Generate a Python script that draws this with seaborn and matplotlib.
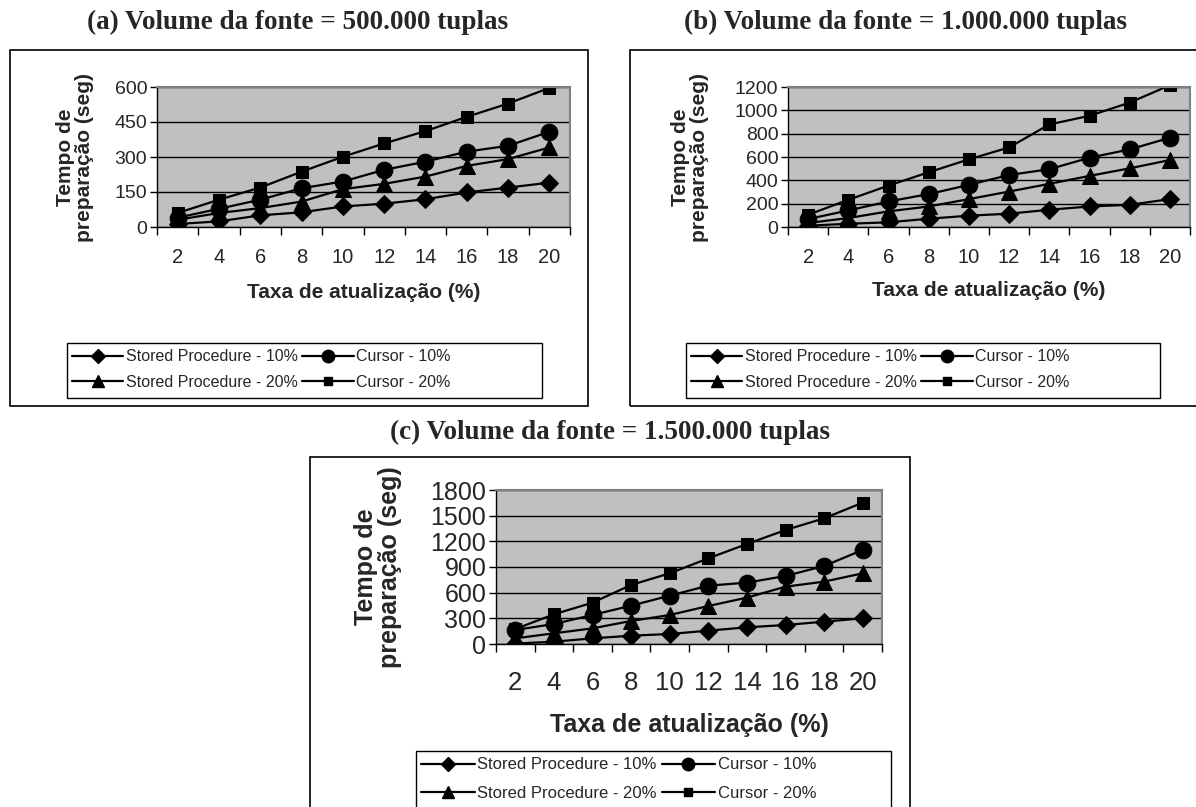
import matplotlib
matplotlib.use('Agg')
import matplotlib.pyplot as plt
import seaborn as sns
import pandas as pd
from matplotlib.lines import Line2D
from matplotlib.patches import Rectangle

# Data (seconds)
taxa = [2, 4, 6, 8, 10, 12, 14, 16, 18, 20]
series_names = ['Stored Procedure - 10%', 'Cursor - 10%',
                'Stored Procedure - 20%', 'Cursor - 20%']

a_sp10 = [13, 24, 50, 63, 88, 100, 119, 148, 169, 190]
a_c10 = [40, 78, 117, 166, 195, 245, 280, 323, 348, 408]
a_sp20 = [31, 60, 81, 109, 162, 185, 216, 262, 291, 341]
a_c20 = [60, 117, 169, 237, 301, 358, 411, 472, 529, 596]

b_sp10 = [11, 28, 40, 71, 97, 114, 148, 176, 190, 239]
b_c10 = [68, 142, 219, 282, 361, 446, 495, 594, 665, 765]
b_sp20 = [34, 77, 134, 176, 239, 304, 370, 438, 503, 574]
b_c20 = [105, 233, 355, 469, 580, 682, 879, 953, 1066, 1215]

c_sp10 = [5, 27, 66, 97, 117, 156, 195, 222, 261, 300]
c_c10 = [164, 234, 339, 448, 565, 682, 717, 795, 912, 1099]
c_sp20 = [66, 125, 183, 269, 339, 444, 542, 670, 729, 826]
c_c20 = [175, 347, 483, 690, 826, 1001, 1169, 1332, 1469, 1652]

W, H = 1196, 807
sns.set_theme(style='white')
plt.rcParams['font.family'] = ['Liberation Sans', 'DejaVu Sans']

markers = {'Stored Procedure - 10%': ('D', 9),
           'Cursor - 10%': ('o', 12),
           'Stored Procedure - 20%': ('^', 11),
           'Cursor - 20%': ('s', 8)}


def px_rect(x0, y0, x1, y1):
    return [x0 / W, 1 - y1 / H, (x1 - x0) / W, (y1 - y0) / H]


def draw_panel(fig, values, title, box, plot, title_pos, ylab_x, xlab_y,
               leg_box, yticks, fs_ytick, fs_xtick, fs_lab, fs_leg, leg_spacing):
    # outer frame of the panel
    bx0, by0, bx1, by1 = box
    fig.patches.append(Rectangle((bx0 / W, 1 - by1 / H), (bx1 - bx0) / W, (by1 - by0) / H,
                                 transform=fig.transFigure, fill=False,
                                 edgecolor='black', linewidth=1.2))
    fig.text(title_pos[0] / W, 1 - title_pos[1] / H, title, ha='center', va='center',
             family=['Liberation Serif'], fontweight='bold', fontsize=19.5)

    ax = fig.add_axes(px_rect(*plot))
    df = pd.DataFrame({'pos': list(range(len(taxa))) * 4,
                       'tempo': [v for vals in values for v in vals],
                       'serie': [s for s in series_names for _ in taxa]})
    for name in series_names:
        m, ms = markers[name]
        sub = df[df['serie'] == name]
        sns.lineplot(data=sub, x='pos', y='tempo', marker=m, markersize=ms,
                     color='black', linewidth=1.6, markeredgecolor='black',
                     ax=ax, legend=False)

    ax.set_facecolor('#c0c0c0')
    ax.set_xlim(-0.5, len(taxa) - 0.5)
    ax.set_ylim(yticks[0], yticks[-1])
    ax.set_yticks(yticks)
    ax.set_xticks(range(len(taxa)))
    ax.set_xticklabels([str(t) for t in taxa])
    ax.set_xticks([i - 0.5 for i in range(len(taxa) + 1)], minor=True)
    ax.yaxis.grid(True, color='black', linewidth=1)
    ax.set_axisbelow(True)
    ax.tick_params(axis='y', which='major', direction='out', length=5, width=1,
                   color='black', labelsize=fs_ytick, pad=2, left=True)
    ax.tick_params(axis='x', which='major', length=0, labelsize=fs_xtick,
                   pad=fs_xtick * 1.05)
    ax.tick_params(axis='x', which='minor', direction='out', length=6, width=1,
                   color='black', bottom=True)
    for side in ['left', 'bottom']:
        ax.spines[side].set_color('black')
        ax.spines[side].set_linewidth(1)
    for side in ['top', 'right']:
        ax.spines[side].set_color('#808080')
        ax.spines[side].set_linewidth(1.5)

    x0, y0, x1, y1 = plot
    ax.set_ylabel('Tempo de\npreparação (seg)', fontweight='bold', fontsize=fs_lab,
                  va='center', linespacing=1.0)
    ax.yaxis.set_label_coords((ylab_x - x0) / (x1 - x0), 0.5)
    ax.set_xlabel('Taxa de atualização (%)', fontweight='bold', fontsize=fs_lab,
                  va='center')
    ax.xaxis.set_label_coords(0.5, 1 - (xlab_y - y0) / (y1 - y0))

    # legend box (Excel style, wider than its entries)
    lx0, ly0, lx1, ly1 = leg_box
    fig.patches.append(Rectangle((lx0 / W, 1 - ly1 / H), (lx1 - lx0) / W, (ly1 - ly0) / H,
                                 transform=fig.transFigure, fill=False,
                                 edgecolor='black', linewidth=1))
    order = ['Stored Procedure - 10%', 'Stored Procedure - 20%',
             'Cursor - 10%', 'Cursor - 20%']
    handles = [Line2D([], [], color='black', linewidth=1.6, marker=markers[n][0],
                      markersize=markers[n][1] * 0.75) for n in order]
    fig.legend(handles, order, loc='upper left',
               bbox_to_anchor=((lx0 + 2) / W, 1 - (ly0 + 3) / H),
               ncol=2, frameon=False, borderaxespad=0, borderpad=0.2,
               handlelength=3.2, handletextpad=0.15, columnspacing=0.3,
               labelspacing=leg_spacing, fontsize=fs_leg)
    return ax


fig = plt.figure(figsize=(W / 100, H / 100), dpi=100)

draw_panel(fig, [a_sp10, a_c10, a_sp20, a_c20],
           '(a) Volume da fonte = 500.000 tuplas',
           box=(10, 50, 588, 406), plot=(157, 87, 570, 227), title_pos=(298, 22),
           ylab_x=75, xlab_y=293, leg_box=(67, 343, 542, 398),
           yticks=[0, 150, 300, 450, 600], fs_ytick=14, fs_xtick=14.5,
           fs_lab=15, fs_leg=11.5, leg_spacing=0.65)

draw_panel(fig, [b_sp10, b_c10, b_sp20, b_c20],
           '(b) Volume da fonte = 1.000.000 tuplas',
           box=(630, 50, 1215, 406), plot=(788, 87, 1190, 227), title_pos=(905, 22),
           ylab_x=690, xlab_y=290, leg_box=(686, 343, 1160, 398),
           yticks=[0, 200, 400, 600, 800, 1000, 1200], fs_ytick=14, fs_xtick=14.5,
           fs_lab=15, fs_leg=11.5, leg_spacing=0.65)

draw_panel(fig, [c_sp10, c_c10, c_sp20, c_c20],
           '(c) Volume da fonte = 1.500.000 tuplas',
           box=(310, 457, 910, 830), plot=(496, 490, 882, 644), title_pos=(610, 432),
           ylab_x=378, xlab_y=725, leg_box=(416, 751, 891, 815),
           yticks=[0, 300, 600, 900, 1200, 1500, 1800], fs_ytick=18, fs_xtick=18.5,
           fs_lab=18, fs_leg=12, leg_spacing=0.8)

fig.savefig('out.png', dpi=100)
